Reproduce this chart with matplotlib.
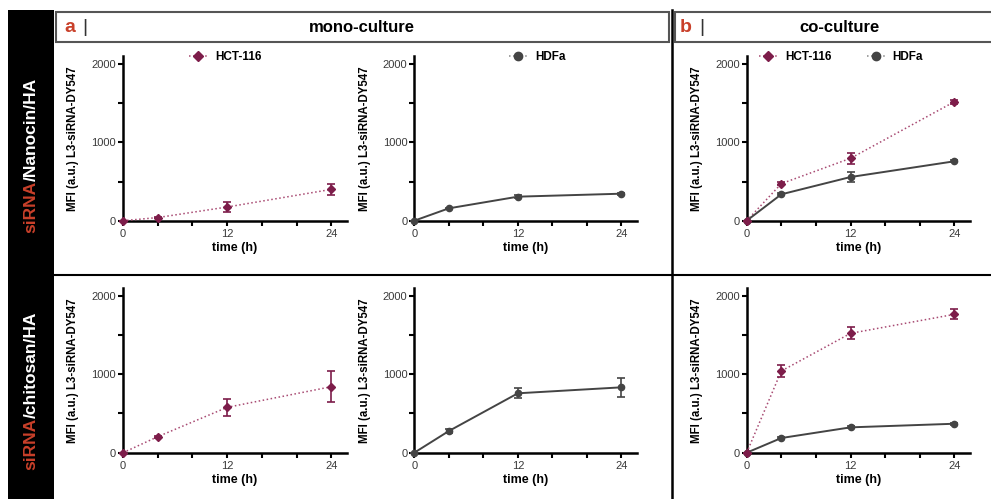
import matplotlib
matplotlib.use("Agg")
import matplotlib.pyplot as plt
from matplotlib.patches import Rectangle
from matplotlib.lines import Line2D

plt.rcParams['font.family'] = ['Liberation Sans', 'DejaVu Sans']

# data
t = [0, 4, 12, 24]

nano_mono_hct = [0, 40, 175, 400]
nano_mono_hct_err = [0, 10, 70, 75]
nano_mono_hdfa = [0, 158, 307, 345]
nano_mono_hdfa_err = [0, 10, 15, 15]

nano_co_hct = [0, 473, 797, 1520]
nano_co_hct_err = [0, 20, 68, 25]
nano_co_hdfa = [0, 337, 558, 759]
nano_co_hdfa_err = [0, 15, 62, 15]

chito_mono_hct = [0, 204, 578, 841]
chito_mono_hct_err = [0, 15, 112, 195]
chito_mono_hdfa = [0, 276, 757, 833]
chito_mono_hdfa_err = [0, 30, 65, 125]

chito_co_hct = [0, 1041, 1521, 1763]
chito_co_hct_err = [0, 80, 75, 62]
chito_co_hdfa = [0, 187, 323, 369]
chito_co_hdfa_err = [0, 10, 12, 12]

x_ticks = [0, 4, 8, 12, 16, 20, 24]
x_ticklabels = ['0', '', '', '12', '', '', '24']
y_ticks = [0, 500, 1000, 1500, 2000]
y_ticklabels = ['0', '', '1000', '', '2000']

MAROON = '#7d1d4a'
PINK = '#a84a72'
GRAY = '#444444'
RED = '#c9402a'

W, H = 991, 499
fig = plt.figure(figsize=(W / 100, H / 100), dpi=100)


def fx(px):
    return px / W


def fy(py):
    return 1 - py / H


def make_ax(left, right, top, bottom):
    ax = fig.add_axes([fx(left), fy(bottom), (right - left) / W, (bottom - top) / H])
    ax.set_xlim(0, 25.8)
    ax.set_ylim(0, 2100)
    for s in ['top', 'right']:
        ax.spines[s].set_visible(False)
    for s in ['left', 'bottom']:
        ax.spines[s].set_linewidth(1.8)
    ax.set_xticks(x_ticks)
    ax.set_xticklabels(x_ticklabels)
    ax.set_yticks(y_ticks)
    ax.set_yticklabels(y_ticklabels)
    ax.tick_params(length=3.5, width=1.5, labelsize=8, labelcolor='#3a3a3a', pad=1.5)
    ax.tick_params(axis='x', pad=2.5)
    ax.set_xlabel('time (h)', fontsize=9, fontweight='bold')
    ax.xaxis.set_label_coords(0.5, -0.13)
    ax.set_ylabel('MFI (a.u.) L3-siRNA-DY547', fontsize=8.3, fontweight='bold')
    ax.yaxis.set_label_coords(-0.195, 0.5)
    return ax


def plot_hct(ax, y, e):
    ax.plot(t, y, color=PINK, linestyle=':', linewidth=1.1, clip_on=False, zorder=3)
    ax.errorbar(t, y, yerr=e, color=MAROON, marker='D', markersize=4.5,
                linestyle='none', elinewidth=1.2, capsize=3,
                capthick=1.2, clip_on=False, zorder=4)


def plot_hdfa(ax, y, e):
    ax.errorbar(t, y, yerr=e, color=GRAY, marker='o', markersize=4.5,
                linestyle='-', linewidth=1.4, elinewidth=1.2, capsize=3,
                capthick=1.2, clip_on=False, zorder=3)


hct_handle = Line2D([], [], color=PINK, linestyle=':', linewidth=1.1, marker='D',
                    markersize=5, markerfacecolor=MAROON, markeredgecolor=MAROON)
hdfa_handle = Line2D([], [], color='#888888', linestyle=':', linewidth=1.1, marker='o',
                     markersize=6, markerfacecolor=GRAY, markeredgecolor=GRAY)


def add_legend(ax, handles, labels, x_px, y_px):
    ax.legend(handles, labels, loc='center left', bbox_to_anchor=(fx(x_px), fy(y_px)),
              bbox_transform=fig.transFigure, frameon=False, ncol=len(handles),
              prop={'weight': 'bold', 'size': 8.5}, handlelength=1.6,
              handletextpad=0.6, columnspacing=3.0, borderpad=0, borderaxespad=0)


# top row: siRNA/Nanocin/HA
top_t, top_b = 56.3, 220.7
ax1 = make_ax(123, 347, top_t, top_b)
plot_hct(ax1, nano_mono_hct, nano_mono_hct_err)
add_legend(ax1, [hct_handle], ['HCT-116'], 189, 57)

ax2 = make_ax(414.3, 637, top_t, top_b)
plot_hdfa(ax2, nano_mono_hdfa, nano_mono_hdfa_err)
add_legend(ax2, [hdfa_handle], ['HDFa'], 509, 57)

ax3 = make_ax(746.7, 970, top_t, top_b)
plot_hdfa(ax3, nano_co_hdfa, nano_co_hdfa_err)
plot_hct(ax3, nano_co_hct, nano_co_hct_err)
add_legend(ax3, [hct_handle, hdfa_handle], ['HCT-116', 'HDFa'], 759, 57)

# bottom row: siRNA/chitosan/HA
bot_t, bot_b = 287.9, 452.7
ax4 = make_ax(123, 347, bot_t, bot_b)
plot_hct(ax4, chito_mono_hct, chito_mono_hct_err)

ax5 = make_ax(414.3, 637, bot_t, bot_b)
plot_hdfa(ax5, chito_mono_hdfa, chito_mono_hdfa_err)

ax6 = make_ax(746.7, 970, bot_t, bot_b)
plot_hdfa(ax6, chito_co_hdfa, chito_co_hdfa_err)
plot_hct(ax6, chito_co_hct, chito_co_hct_err)

# frame decorations
fig.patches.append(Rectangle((fx(8), 0), (54 - 8) / W, (H - 10) / H,
                             transform=fig.transFigure, facecolor='black',
                             edgecolor='none', zorder=0))
fig.patches.append(Rectangle((fx(56), fy(41.5)), (669 - 56) / W, 29.5 / H,
                             transform=fig.transFigure, facecolor='white',
                             edgecolor='#555555', linewidth=1.5))
fig.patches.append(Rectangle((fx(675), fy(41.5)), (995 - 675) / W, 29.5 / H,
                             transform=fig.transFigure, facecolor='white',
                             edgecolor='#555555', linewidth=1.5))
fig.lines.append(Line2D([fx(671.5), fx(671.5)], [fy(10), 0], transform=fig.transFigure,
                        color='black', linewidth=1.8))
fig.lines.append(Line2D([fx(54), 1], [fy(275), fy(275)], transform=fig.transFigure,
                        color='black', linewidth=1.5))

# header texts
fig.text(fx(64), fy(27), 'a', color=RED, fontsize=14, fontweight='bold', va='center')
fig.text(fx(82), fy(27), '|', color='#333333', fontsize=14, va='center')
fig.text(fx(362), fy(27), 'mono-culture', fontsize=12, fontweight='bold', ha='center', va='center')
fig.text(fx(680), fy(27), 'b', color=RED, fontsize=14, fontweight='bold', va='center')
fig.text(fx(699), fy(27), '|', color='#333333', fontsize=14, va='center')
fig.text(fx(840), fy(27), 'co-culture', fontsize=12, fontweight='bold', ha='center', va='center')

# row labels: red "siRNA" followed by white remainder
for y_start, rest in [(233, '/Nanocin/HA'), (470, '/chitosan/HA')]:
    t1 = fig.text(fx(31), fy(y_start), 'siRNA', color=RED, fontsize=12.5,
                  fontweight='bold', rotation=90, ha='center', va='bottom')
    fig.add_artist(plt.Annotation(rest, xy=(0.5, 1), xycoords=(t1, t1), color='white',
                                  fontsize=12.5, fontweight='bold', rotation=90,
                                  ha='center', va='bottom'))

fig.savefig('out.png', dpi=100)
